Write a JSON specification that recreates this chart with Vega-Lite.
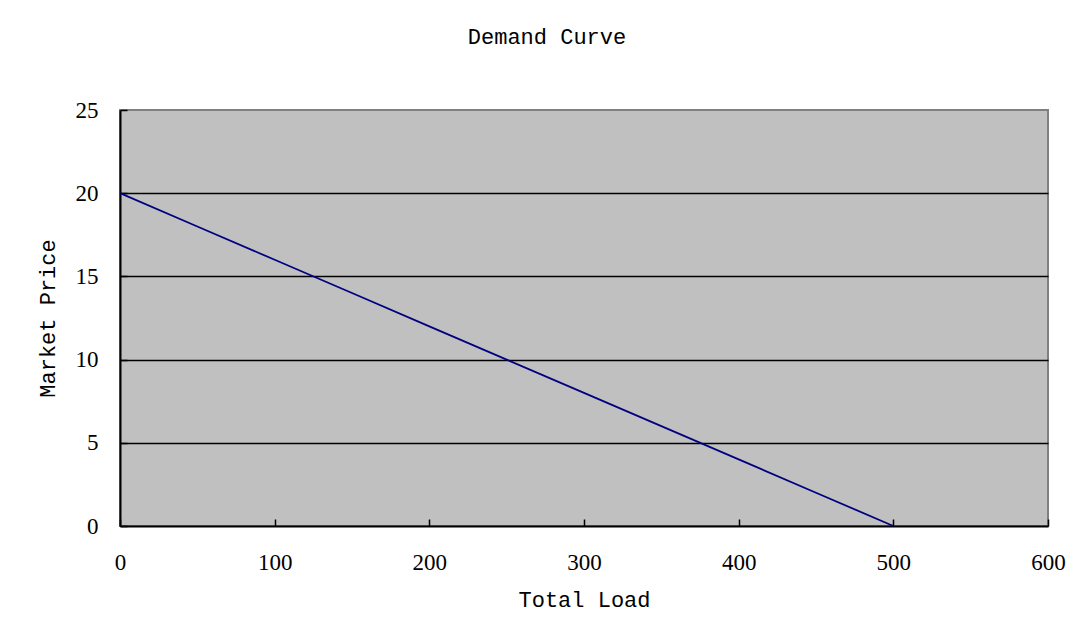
{
  "$schema": "https://vega.github.io/schema/vega-lite/v6.json",
  "width": 928,
  "height": 416,
  "autosize": {"type": "none"},
  "padding": {"left": 120, "top": 110, "right": 36, "bottom": 116},
  "background": "white",
  "title": {
    "text": "Demand Curve",
    "font": "Liberation Mono",
    "fontSize": 22,
    "fontWeight": "normal",
    "color": "black",
    "anchor": "middle",
    "dx": -37,
    "offset": 50
  },
  "config": {
    "view": {"fill": "#C0C0C0", "stroke": "#808080", "strokeWidth": 2},
    "axis": {
      "labelFont": "Liberation Serif",
      "labelFontSize": 23,
      "labelColor": "black",
      "labelFlush": false,
      "titleFont": "Liberation Mono",
      "titleFontSize": 22,
      "titleFontWeight": "normal",
      "titleColor": "black",
      "domainColor": "black",
      "domainWidth": 2,
      "tickColor": "black",
      "tickWidth": 1.5,
      "tickSize": -7
    }
  },
  "data": {
    "values": [
      {"load": 0, "price": 20},
      {"load": 50, "price": 18},
      {"load": 100, "price": 16},
      {"load": 150, "price": 14},
      {"load": 200, "price": 12},
      {"load": 250, "price": 10},
      {"load": 300, "price": 8},
      {"load": 350, "price": 6},
      {"load": 400, "price": 4},
      {"load": 450, "price": 2},
      {"load": 500, "price": 0}
    ]
  },
  "mark": {"type": "line", "color": "#000080", "strokeWidth": 1.8},
  "encoding": {
    "x": {
      "field": "load",
      "type": "quantitative",
      "scale": {"domain": [0, 600], "nice": false},
      "axis": {
        "title": "Total Load",
        "values": [0, 100, 200, 300, 400, 500, 600],
        "grid": false,
        "labelPadding": 32,
        "titlePadding": 15
      }
    },
    "y": {
      "field": "price",
      "type": "quantitative",
      "scale": {"domain": [0, 25], "nice": false},
      "axis": {
        "title": "Market Price",
        "values": [0, 5, 10, 15, 20, 25],
        "grid": true,
        "gridColor": {"condition": {"test": "datum.value == 0 || datum.value == 25", "value": "transparent"}, "value": "black"},
        "gridWidth": 1.5,
        "labelPadding": 29,
        "titlePadding": 16
      }
    }
  }
}
